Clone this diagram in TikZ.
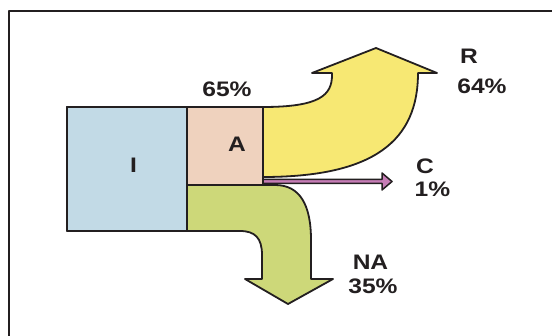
\documentclass[tikz,border=0pt]{standalone}
\usepackage{fontspec}
\setmainfont{Liberation Sans}[FakeStretch=1.17]
\definecolor{cI}{HTML}{C2DAE6}
\definecolor{cA}{HTML}{EFD2BE}
\definecolor{cR}{HTML}{F7E873}
\definecolor{cNA}{HTML}{CDD879}
\definecolor{cC}{HTML}{C67DB6}
\definecolor{ink}{HTML}{231F20}
\begin{document}
\begin{tikzpicture}[x=1pt,y=-1pt,line join=round,
  outl/.style={draw=ink,line width=1.8pt},
  boxn/.style={outl,rectangle,anchor=north west,inner sep=0pt,outer sep=0pt},
  lbl/.style={font=\bfseries\fontsize{21}{22}\selectfont,inner sep=0pt,text=ink}]
\useasboundingbox (0,0) rectangle (552,336);
\draw[line width=2.6pt,draw=ink] (9,350) -- (9,11) -- (560,11);
% boxes
\node[boxn,fill=cI,minimum width=120pt,minimum height=124pt] (I) at (67,107) {};
\node[boxn,fill=cA,minimum width=76pt,minimum height=78pt] (A) at (187,107) {};
% R arrow
\filldraw[outl,fill=cR] (A.north east) .. controls (320,107) and (332,95) .. (332,75)
  -- (332,73) -- (312,73) -- (376,48) -- (437,73) -- (418,73)
  .. controls (418,140) and (375,177) .. (263,177) -- cycle;
% NA arrow
\filldraw[outl,fill=cNA] (A.south west) -- (275,185) .. controls (300,185) and (311,205) .. (311,240)
  -- (311,279) -- (333,279) -- (288,304) -- (245,279) -- (262,279) -- (262,255)
  .. controls (262,238) and (255,231) .. (240,231) -- (I.south east) -- cycle;
% C arrow
\filldraw[draw=ink,line width=1.5pt,fill=cC] (263,179.5) -- (382,179.5) -- (382,173) -- (392,181.5)
  -- (382,190) -- (382,183.5) -- (263,183.5) -- cycle;
% redraw boxes on top
\node[boxn,fill=cI,minimum width=120pt,minimum height=124pt] at (67,107) {};
\node[boxn,fill=cA,minimum width=76pt,minimum height=78pt] at (187,107) {};
% labels
\node[lbl] (tI) at (133.5,165) {I};
\node[lbl] (tA) at (237,144.5) {A};
\node[lbl] (t65) at (227,89.5) {65\%};
\node[lbl] (tR) at (469,56.5) {R};
\node[lbl] (t64) at (482,86.5) {64\%};
\node[lbl] (tC) at (425,166) {C};
\node[lbl] (t1) at (432.5,189.5) {1\%};
\node[lbl] (tNA) at (370.5,262.5) {NA};
\node[lbl] (t35) at (373,286.5) {35\%};
\end{tikzpicture}
\end{document}
